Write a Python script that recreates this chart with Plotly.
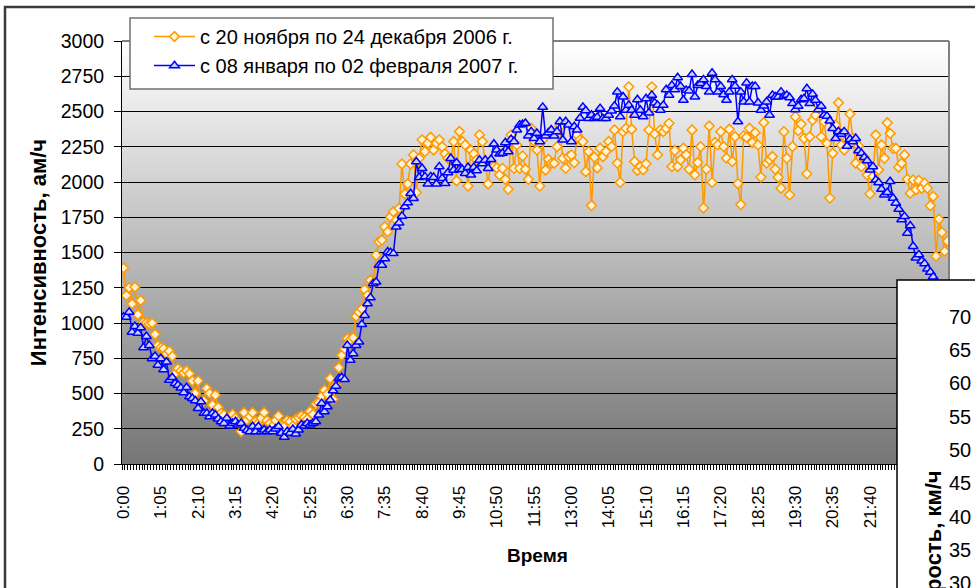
import plotly.graph_objects as go

# Traffic intensity (vehicles per hour) in 5-minute steps over a day.
# One row per hour (12 readings each).
NOV_DEC_2006 = [
    1390, 1195, 1250, 1135, 1255, 1060, 1160, 1005, 1000, 995, 1000, 920,
    840, 825, 818, 783, 800, 765, 642, 677, 660, 647, 661, 640,
    590, 501, 590, 442, 447, 536, 501, 419, 489, 402, 360, 348,
    313, 330, 353, 325, 300, 230, 365, 313, 336, 365, 301, 290,
    325, 365, 308, 289, 270, 308, 341, 270, 266, 308, 300, 270,
    318, 329, 341, 330, 318, 374, 353, 426, 435, 480, 524, 496,
    607, 459, 560, 684, 771, 818, 889, 880, 896, 1047, 1077, 1100,
    1237, 1196, 1303, 1280, 1481, 1576, 1588, 1682, 1647, 1753, 1789, 1730,
    1813, 2128, 1915, 1986, 2128, 2192, 1926, 2168, 2299, 2216, 2275, 2317,
    2227, 2275, 2299, 2250, 2200, 2168, 2156, 2287, 2009, 2358, 2287, 2263,
    1971, 2227, 2200, 2156, 2334, 2287, 2150, 1986, 2145, 2109, 2100, 2050,
    2097, 2019, 1948, 2334, 2097, 2263, 2097, 2185, 2090, 2019, 2381, 2290,
    2227, 1971, 2300, 2085, 2161, 2133, 2133, 2250, 2393, 2168, 2097, 2180,
    2192, 2137, 2334, 2299, 2287, 2073, 2216, 1833, 2176, 2100, 2240, 2181,
    2216, 2287, 2251, 2369, 2134, 1997, 2357, 2381, 2675, 2374, 2145, 2082,
    2110, 2087, 2129, 2369, 2675, 2341, 2193, 2369, 2357, 2381, 2416, 2110,
    2223, 2110, 2157, 2240, 2193, 2091, 2369, 2051, 2138, 2251, 1816, 2091,
    2397, 1997, 2280, 2263, 2357, 2251, 2169, 2374, 2145, 2322, 1988, 1840,
    2327, 2317, 2381, 2280, 2350, 2263, 2035, 2421, 2134, 2157, 2181, 2091,
    2034, 1956, 2357, 2168, 1909, 2251, 2463, 2364, 2411, 2310, 2058, 2321,
    2439, 2474, 2545, 2321, 2427, 2274, 1886, 2204, 2404, 2562, 2262, 2227,
    2303, 2482, 2310, 2133, 2256, 2109, 2175, 2050, 1916, 2039, 2333, 2086,
    2262, 2168, 2420, 2345, 2239, 2239, 2105, 2133, 2192, 2020, 1921, 2015,
    1945, 2011, 1956, 1992, 1956, 1832, 1898, 1474, 1737, 1643, 1509, 1580,
]

JAN_FEB_2007 = [
    1042, 1042, 1077, 936, 976, 929, 967, 826, 906, 842, 748, 764,
    701, 748, 670, 724, 595, 614, 571, 560, 540, 506, 543, 477,
    466, 449, 395, 442, 360, 360, 336, 360, 348, 320, 301, 289,
    325, 270, 289, 301, 278, 289, 254, 240, 230, 266, 230, 266,
    230, 242, 230, 242, 230, 250, 266, 219, 191, 230, 219, 247,
    214, 242, 278, 270, 289, 278, 290, 301, 348, 430, 372, 407,
    454, 520, 553, 607, 614, 600, 842, 736, 783, 842, 866, 990,
    1054, 1137, 1180, 1279, 1291, 1410, 1410, 1457, 1505, 1500, 1493, 1682,
    1711, 1758, 1825, 1853, 1919, 1884, 2144, 2033, 2097, 2038, 1986, 2038,
    2033, 1986, 2109, 2026, 1990, 2066, 2168, 2085, 2137, 2090, 2090, 2062,
    2104, 2050, 2104, 2081, 2156, 2130, 2156, 2097, 2161, 2270, 2227, 2199,
    2204, 2280, 2216, 2303, 2287, 2370, 2405, 2410, 2417, 2327, 2358, 2310,
    2346, 2287, 2531, 2327, 2350, 2370, 2327, 2358, 2429, 2299, 2429, 2405,
    2287, 2393, 2370, 2453, 2531, 2507, 2451, 2475, 2451, 2460, 2522, 2451,
    2451, 2475, 2505, 2540, 2639, 2463, 2604, 2510, 2545, 2510, 2475, 2585,
    2510, 2463, 2592, 2491, 2616, 2562, 2545, 2510, 2545, 2656, 2616, 2686,
    2656, 2741, 2679, 2581, 2651, 2647, 2764, 2604, 2686, 2700, 2726, 2679,
    2639, 2773, 2726, 2639, 2679, 2620, 2581, 2639, 2726, 2680, 2428, 2639,
    2569, 2703, 2569, 2679, 2679, 2562, 2510, 2540, 2569, 2475, 2616, 2604,
    2604, 2639, 2609, 2616, 2599, 2557, 2514, 2538, 2585, 2592, 2663, 2557,
    2623, 2580, 2514, 2538, 2474, 2467, 2434, 2380, 2310, 2357, 2340, 2357,
    2255, 2303, 2286, 2310, 2222, 2204, 2175, 2152, 2086, 2109, 2015, 1996,
    1950, 1909, 1926, 2004, 1886, 1850, 1808, 1733, 1756, 1638, 1690, 1544,
    1462, 1485, 1440, 1422, 1384, 1361, 1328, 1290, 1250, 1210, 1180, 1150,
]

SERIES_NAMES = ["с 20 ноября по 24 декабря 2006 г.", "с 08 января по 02 февраля 2007 г."]

TICK_LABELS = ["0:00", "1:05", "2:10", "3:15", "4:20", "5:25", "6:30", "7:35",
               "8:40", "9:45", "10:50", "11:55", "13:00", "14:05", "15:10",
               "16:15", "17:20", "18:25", "19:30", "20:35", "21:40", "22:45",
               "23:50"]

SPEED_TICKS = [70, 65, 60, 55, 50, 45, 40, 35, 30]

STEP_MIN = 5
minutes = [k * STEP_MIN for k in range(len(NOV_DEC_2006))]
tick_minutes = [k * 65 for k in range(len(TICK_LABELS))]

FONT = "Arial, 'Liberation Sans', sans-serif"

fig = go.Figure()

fig.add_trace(go.Scatter(
    x=minutes, y=NOV_DEC_2006, name=SERIES_NAMES[0], mode="lines+markers",
    line=dict(color="#FF9900", width=1.5),
    marker=dict(symbol="diamond", size=7.5, color="#FFF3D6",
                line=dict(color="#FF9900", width=1.5)),
    legendgroup="a",
))
fig.add_trace(go.Scatter(
    x=minutes, y=JAN_FEB_2007, name=SERIES_NAMES[1], mode="lines+markers",
    line=dict(color="#0000FF", width=1.5),
    marker=dict(symbol="triangle-up", size=8.5, color="#C8D2FF",
                line=dict(color="#0000FF", width=1.5)),
    legendgroup="b",
))

# Plot-area fill: vertical gradient from white (top) to mid grey (bottom)
shapes = []
n_bands = 141
y_top = 3000.0
for k in range(n_bands):
    y1 = y_top - k * y_top / n_bands
    y0 = y_top - (k + 1) * y_top / n_bands
    frac = (k + 0.5) / n_bands
    g = int(round(255 - frac * (255 - 118)))
    shapes.append(dict(type="rect", xref="x", yref="y", x0=-2.5, x1=1437.5,
                       y0=y0, y1=y1, fillcolor=f"rgb({g},{g},{g})",
                       line=dict(width=0), layer="below"))

# Plot-area frame on top and right
shapes.append(dict(type="line", xref="paper", yref="paper", x0=0, x1=1, y0=1, y1=1,
                   line=dict(color="#808080", width=2), layer="above"))
shapes.append(dict(type="line", xref="paper", yref="paper", x0=1, x1=1, y0=0, y1=1,
                   line=dict(color="#808080", width=2), layer="above"))

# Pixel -> paper helpers for the fixed 975x588 canvas
L, T = 122, 41
W, H = 827, 423
def px(xp):
    return (xp - L) / W
def py(yp):
    return (T + H - yp) / H

# Chart frame
shapes.append(dict(type="rect", xref="paper", yref="paper",
                   x0=px(5), x1=px(1010), y0=py(620), y1=py(7),
                   line=dict(color="#3a3a3a", width=2.5), fillcolor="rgba(0,0,0,0)",
                   layer="above"))
# Legend frame
shapes.append(dict(type="rect", xref="paper", yref="paper",
                   x0=px(130), x1=px(553), y0=py(89), y1=py(18),
                   line=dict(color="#707070", width=1.5), fillcolor="#FFFFFF",
                   layer="above"))
# Neighbouring speed chart panel
shapes.append(dict(type="rect", xref="paper", yref="paper",
                   x0=px(897), x1=px(1010), y0=py(620), y1=py(280),
                   line=dict(color="#000000", width=1.5), fillcolor="#FFFFFF",
                   layer="above"))

annotations = []
for k, v in enumerate(SPEED_TICKS):
    annotations.append(dict(text=str(v), xref="paper", yref="paper",
                            x=px(973), y=py(316.7 + k * 33.3), xanchor="right",
                            yanchor="middle", showarrow=False,
                            font=dict(family=FONT, size=20, color="#000")))
annotations.append(dict(text="<b>Скорость, км/ч</b>", xref="paper", yref="paper",
                        x=px(933), y=py(468), textangle=-90, xanchor="center",
                        yanchor="top", showarrow=False,
                        font=dict(family=FONT, size=22, color="#000")))
# Category axis title
annotations.append(dict(text="<b>Время</b>", xref="paper", yref="paper",
                        x=px(537), y=py(555), xanchor="center", yanchor="middle",
                        showarrow=False, font=dict(family=FONT, size=19, color="#000")))

fig.update_layout(
    width=975, height=588,
    margin=dict(l=L, r=975 - L - W, t=T, b=588 - T - H),
    paper_bgcolor="#FFFFFF", plot_bgcolor="#FFFFFF",
    font=dict(family=FONT, color="#000"),
    shapes=shapes, annotations=annotations,
    showlegend=True,
    legend=dict(x=px(149), y=py(17), xanchor="left", yanchor="top",
                bgcolor="rgba(0,0,0,0)", borderwidth=0, itemwidth=41,
                font=dict(family=FONT, size=20, color="#000"),
                tracegroupgap=16, traceorder="normal"),
)

fig.update_xaxes(
    range=[-2.5, 1437.5], tickmode="array", tickvals=tick_minutes, ticktext=TICK_LABELS,
    tickangle=-90, ticks="", ticklabelstandoff=14,
    tickfont=dict(family=FONT, size=17, color="#000"),
    showline=True, linecolor="#000", linewidth=1, showgrid=False, zeroline=False,
    minor=dict(ticks="outside", ticklen=5, tickcolor="#000", tickwidth=1,
               dtick=STEP_MIN, tick0=-2.5, showgrid=False),
    automargin=False, fixedrange=True,
)
fig.update_yaxes(
    range=[0, 3000], dtick=250, tick0=0, ticks="outside", ticklen=7, tickcolor="#000",
    tickfont=dict(family=FONT, size=19.5, color="#000"), ticklabelstandoff=6,
    showline=True, linecolor="#000", linewidth=1,
    showgrid=True, gridcolor="#000", gridwidth=1, zeroline=False,
    title=dict(text="<b>Интенсивность, ам/ч</b>",
               font=dict(family=FONT, size=22, color="#000"), standoff=8),
    automargin=False, fixedrange=True,
)

fig.write_html("out.html")
